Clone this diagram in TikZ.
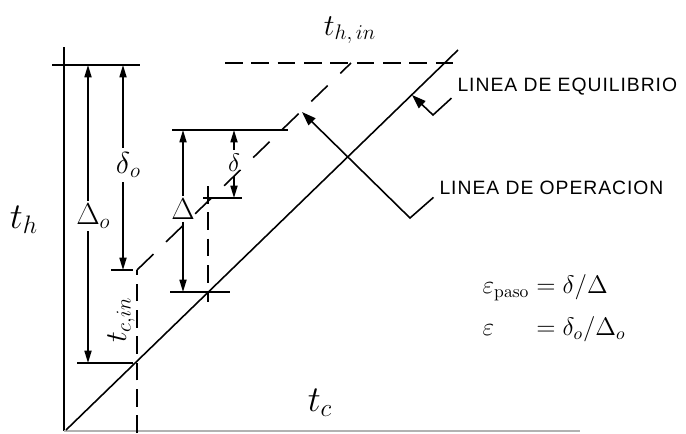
\documentclass[tikz,border=0pt]{standalone}
\usepackage{amsmath,amssymb}
\usepackage{fontspec}
\newfontfamily\rotulo[LetterSpace=5]{Liberation Sans}
\usetikzlibrary{arrows.meta}

\begin{document}
\begin{tikzpicture}[x=0.02cm, y=-0.02cm, line width=0.9pt,
    cota/.style={-{Triangle[length=7pt,width=4pt]}},
    flecha/.style={-{Triangle[length=8pt,width=5.5pt]}},
    guion/.style={dash pattern=on 10pt off 5pt},
    guionlargo/.style={dash pattern=on 13pt off 10pt},
    texto/.style={font=\rotulo\fontsize{11}{13}\selectfont, anchor=west, inner sep=1pt}]
    \useasboundingbox (0,0) rectangle (686,433);

    % ejes
    \coordinate (ytop) at (64,47);
    \coordinate (O) at (64,431);
    \coordinate (xend) at (580,431);
    \draw (ytop) -- (O);
    \draw[gray!60] (O) -- (xend);

    % linea de equilibrio y linea de operacion
    \coordinate (E0) at (66,430);
    \coordinate (E1) at (458,50);
    \coordinate (C) at (137,270);
    \coordinate (H) at (351,63);
    \draw (E0) -- (E1);
    \draw[guionlargo] (C) -- (H);
    \draw[guion] (137,433) -- (C);
    \draw[guion] (225,63) -- (460,63);
    \draw[guion] (208,186) -- (208,302);

    % topes horizontales
    \draw (52,65) -- (140,65);
    \draw (77,363) -- (133,363);
    \draw (111,270) -- (133,270);
    \draw (172,130) -- (288,130);
    \draw (170,292) -- (230,292);
    \draw (203,198) -- (242,198);

    % cotas
    \node[font=\LARGE, inner sep=1pt] (D0) at (88,216) {$\Delta\rlap{$_{o}$}$};
    \draw[cota] (D0) -- (88,65);
    \draw[cota] (D0) -- (88,363);
    \node[font=\LARGE, inner sep=2pt] (d0) at (123,165) {$\delta\rlap{$_{o}$}$};
    \draw[cota] (d0) -- (123,65);
    \draw[cota] (d0) -- (123,270);
    \node[font=\LARGE, inner sep=1pt] (D1) at (183,209) {$\Delta$};
    \draw[cota] (D1) -- (183,130);
    \draw[cota] (D1) -- (183,292);
    \node[font=\Large, inner sep=2pt] (d1) at (234,163) {$\delta$};
    \draw[cota] (d1) -- (234,130);
    \draw[cota] (d1) -- (234,198);

    % rotulos
    \node[font=\huge] (th) at (24,220) {$t_h$};
    \node[font=\huge] (tc) at (320,403) {$t_c$};
    \node[font=\LARGE] (thin) at (350,30) {$t_{h,\,in}$};
    \node[font=\LARGE, rotate=90] (tcin) at (121,320) {$t_{c,in}$};

    \node[texto] (leq) at (455,87) {LINEA DE EQUILIBRIO};
    \draw[flecha] ([xshift=-2pt]leq.south west) -- (433,115) -- (412,95);
    \node[texto] (lop) at (437,188) {LINEA DE OPERACION};
    \draw[flecha] ([xshift=-2pt]lop.south west) -- (410,218) -- (302,112);

    \node[font=\Large, anchor=west] (ef) at (476,308)
      {$\begin{array}{@{}l@{\;}l}\varepsilon_{\text{paso}} & = \delta/\Delta\\[6pt] \varepsilon & = \delta_{o}/\Delta_{o}\end{array}$};
\end{tikzpicture}
\end{document}
